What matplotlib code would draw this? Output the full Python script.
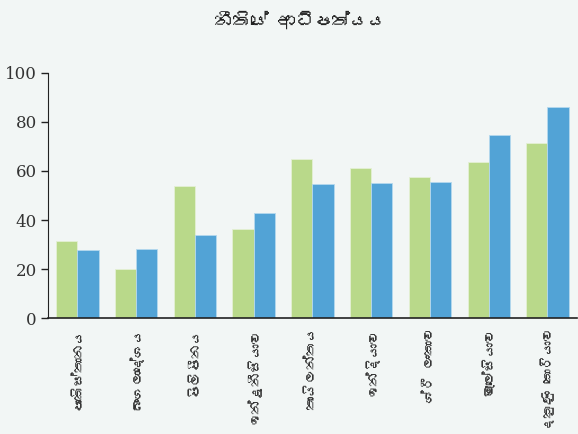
import numpy as np
import matplotlib
matplotlib.use("Agg")
import matplotlib.pyplot as plt
from matplotlib import font_manager
from matplotlib.ft2font import FT2Font

# data
countries = ["පාකිස්තානය", "බංගලාදේශය", "පිලිපීනය", "ඉන්දුනීසියාව", "තායිලන්තය",
             "ඉන්දියාව", "ශ්‍රී ලංකාව", "මැලේසියාව", "දකුණු කොරියාව"]
series_a = [31.5, 19.9, 53.7, 36.2, 64.8, 61.2, 57.7, 63.8, 71.4]
series_b = [27.8, 28.3, 34.1, 42.8, 54.7, 55.3, 55.7, 74.5, 86.0]
y_ticks = [0, 20, 40, 60, 80, 100]
title = "නීතියේ ආධිපත්‍යය"

# look for any installed font that has sinhala glyphs
sinhala_font = None
for f in font_manager.fontManager.ttflist:
    try:
        if 0x0D9A in FT2Font(f.fname).get_charmap():
            sinhala_font = f.name
            break
    except Exception:
        pass
label_family = [sinhala_font, "DejaVu Sans"] if sinhala_font else ["DejaVu Sans"]


def shown(s):
    # no text shaping in matplotlib, the joiner would only draw as a box
    return s.replace("\u200d", "")


bg = "#f2f6f5"
green = "#b9d98a"
blue = "#52a3d6"

fig = plt.figure(figsize=(5.78, 4.34), dpi=100, facecolor=bg)
ax = fig.add_axes([0.083, 0.267, 0.915, 0.565], facecolor=bg)

x = np.arange(len(countries))
w = 0.36
ax.bar(x - w / 2, series_a, w, color=green, edgecolor="#e4f0d4", linewidth=0.6)
ax.bar(x + w / 2, series_b, w, color=blue, edgecolor="#b5d8ee", linewidth=0.6)

ax.set_xlim(-0.5, len(countries) - 0.5)
ax.set_ylim(0, 100)
ax.set_yticks(y_ticks)
ax.set_yticklabels([str(t) for t in y_ticks], family="DejaVu Serif", fontsize=12, color="#333333")
ax.set_xticks(x)
ax.set_xticklabels([shown(c) for c in countries], rotation=90, family=label_family,
                   fontsize=10, color="#333333")
ax.tick_params(axis="x", length=0, pad=6)
ax.tick_params(axis="y", length=5, width=1, color="#222222", pad=3)

for s in ["top", "right"]:
    ax.spines[s].set_visible(False)
ax.spines["left"].set_color("#222222")
ax.spines["bottom"].set_color("#222222")
ax.spines["bottom"].set_linewidth(1.2)

fig.text(0.52, 0.955, shown(title), ha="center", va="center", fontsize=13, fontweight="bold",
         family=label_family, color="#222222")

fig.savefig("out.png", dpi=100, facecolor=bg)
